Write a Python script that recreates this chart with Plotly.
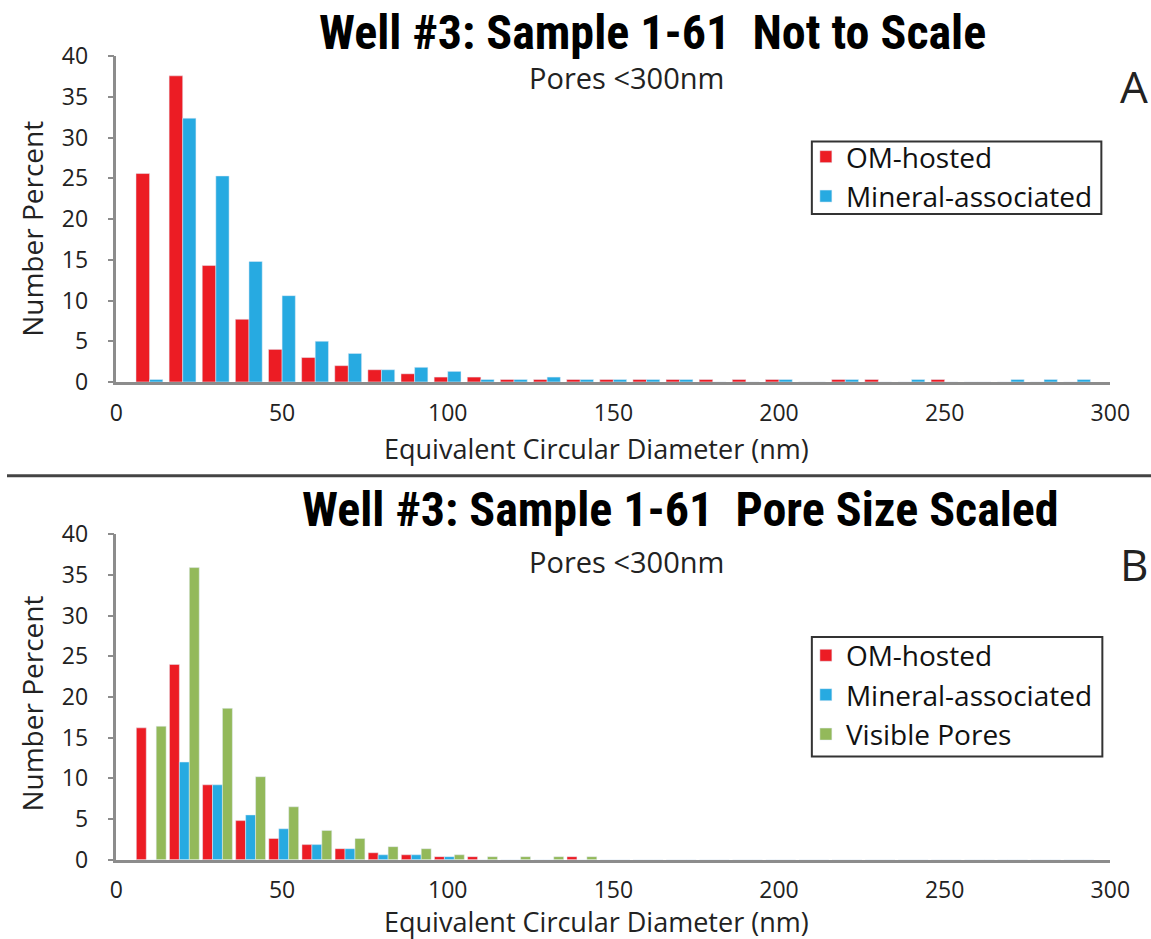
import plotly.graph_objects as go

# ---- data ----
bins_nm = [10 * k for k in range(1, 30)]  # group centres, nm
tick_vals = [0, 50, 100, 150, 200, 250, 300]
y_ticks = [0, 5, 10, 15, 20, 25, 30, 35, 40]

a_om = [25.6, 37.6, 14.3, 7.7, 4.0, 3.0, 2.0, 1.5, 1.0, 0.6, 0.6, 0.3, 0.3, 0.3, 0.3,
        0.3, 0.3, 0.3, 0.3, 0.3, 0, 0.3, 0.3, 0, 0.3, 0, 0, 0, 0]
a_min = [0.3, 32.4, 25.3, 14.8, 10.6, 5.0, 3.5, 1.5, 1.8, 1.3, 0.3, 0.3, 0.6, 0.3, 0.3,
         0.3, 0.3, 0, 0, 0.3, 0, 0.3, 0, 0.3, 0, 0, 0.3, 0.3, 0.3]

b_om = [16.2, 24.0, 9.2, 4.8, 2.6, 1.85, 1.35, 0.85, 0.6, 0.37, 0.37, 0, 0, 0.37,
        0, 0, 0, 0, 0, 0, 0, 0, 0, 0, 0, 0, 0, 0, 0]
b_min = [0, 12.0, 9.2, 5.5, 3.8, 1.85, 1.35, 0.6, 0.6, 0.37, 0, 0, 0, 0,
         0, 0, 0, 0, 0, 0, 0, 0, 0, 0, 0, 0, 0, 0, 0]
b_vis = [16.4, 35.9, 18.6, 10.2, 6.5, 3.6, 2.6, 1.6, 1.35, 0.6, 0.37, 0.37, 0.37, 0.37,
         0, 0, 0, 0, 0, 0, 0, 0, 0, 0, 0, 0, 0, 0, 0]

RED = "#EC1C24"
BLUE = "#27AAE1"
GREEN = "#93B95A"
AXC = "#8c8c8c"
FONT = "Open Sans"
TFONT = "Liberation Sans Narrow, Roboto Condensed, Open Sans"

W, H = 1172, 952  # page size of the figure


# map a target position in the photographed picture to page pixels
def PX(r):
    return (r - 3) / 0.982


def PY(r):
    return (r - 15) / 0.971


def fx(r):
    return PX(r) / W


def fy(r):
    return 1 - PY(r) / H


fig = go.Figure()

# Panel A
fig.add_trace(go.Bar(x=bins_nm, y=a_om, name="OM-hosted", marker_color=RED,
                     width=4.1, offset=-4.1, xaxis="x", yaxis="y", legend="legend"))
fig.add_trace(go.Bar(x=bins_nm, y=a_min, name="Mineral-associated", marker_color=BLUE,
                     width=4.0, offset=0.0, xaxis="x", yaxis="y", legend="legend"))
# Panel B
fig.add_trace(go.Bar(x=bins_nm, y=b_om, name="OM-hosted", marker_color=RED,
                     width=3.0, offset=-4.0, xaxis="x2", yaxis="y2", legend="legend2"))
fig.add_trace(go.Bar(x=bins_nm, y=b_min, name="Mineral-associated", marker_color=BLUE,
                     width=3.0, offset=-1.0, xaxis="x2", yaxis="y2", legend="legend2"))
fig.add_trace(go.Bar(x=bins_nm, y=b_vis, name="Visible Pores", marker_color=GREEN,
                     width=3.0, offset=2.0, xaxis="x2", yaxis="y2", legend="legend2"))

xdom = [fx(113), fx(1112)]


def xax(anchor):
    return dict(domain=xdom, range=[0, 300], tickvals=tick_vals, showgrid=False,
                zeroline=False, showline=True, linecolor=AXC, linewidth=3, ticks="",
                tickfont=dict(family=FONT, size=23, color="#222"), anchor=anchor,
                ticklabelstandoff=8, fixedrange=True)


def yax(anchor, dom):
    return dict(domain=dom, range=[0, 40], tickvals=y_ticks, showgrid=False,
                zeroline=False, showline=True, linecolor=AXC, linewidth=2.5,
                ticks="outside", ticklen=6, tickwidth=2, tickcolor=AXC,
                tickfont=dict(family=FONT, size=23, color="#222"), anchor=anchor,
                ticklabelstandoff=15, fixedrange=True)


ya_dom = [fy(381.7), fy(54.5)]
yb_dom = [fy(861.7), fy(534.7)]

ann = []


def text(x, y, s, size, bold=False, family=FONT, color="#111", angle=0):
    ann.append(dict(x=fx(x), y=fy(y), xref="paper", yref="paper", text=s, showarrow=False,
                    xanchor="center", yanchor="middle", textangle=angle,
                    font=dict(family=family, size=size, color=color,
                              weight="bold" if bold else "normal")))


text(652, 31, "Well #3: Sample 1-61  Not to Scale", 48, bold=True, family=TFONT, color="#000")
text(626, 76, "Pores <300nm", 29, color="#222")
text(1136, 84, "A", 44, color="#222")
text(596, 449, "Equivalent Circular Diameter (nm)", 27, color="#222")
text(28, 228, "Number Percent", 28, color="#222", angle=-90)

text(680, 510, "Well #3: Sample 1-61  Pore Size Scaled", 48, bold=True, family=TFONT, color="#000")
text(626, 562, "Pores <300nm", 29, color="#222")
text(1136, 565, "B", 44, color="#222")
text(596, 924, "Equivalent Circular Diameter (nm)", 27, color="#222")
text(28, 705, "Number Percent", 28, color="#222", angle=-90)

leg_common = dict(xanchor="left", yanchor="top", borderwidth=0,
                  bgcolor="rgba(0,0,0,0)", font=dict(family=FONT, size=28, color="#111"),
                  itemclick=False, itemdoubleclick=False, tracegroupgap=0)


def box(x0, y0, x1, y1):
    return dict(type="rect", xref="paper", yref="paper", x0=fx(x0), x1=fx(x1),
                y0=fy(y1), y1=fy(y0), line=dict(color="#333", width=2),
                fillcolor="rgba(0,0,0,0)", layer="above")


fig.update_layout(
    width=W, height=H, margin=dict(l=0, r=0, t=0, b=0),
    paper_bgcolor="white", plot_bgcolor="white",
    barmode="overlay", showlegend=True,
    xaxis=xax("y"), yaxis=yax("x", ya_dom),
    xaxis2=xax("y2"), yaxis2=yax("x2", yb_dom),
    legend=dict(x=fx(806), y=fy(130.5), **leg_common),
    legend2=dict(x=fx(806), y=fy(631.5), **leg_common),
    annotations=ann,
    shapes=[
        dict(type="line", xref="paper", yref="paper", x0=0, x1=1,
             y0=fy(476), y1=fy(476), line=dict(color="#444", width=3)),
        box(812, 140, 1103, 213),
        box(812, 638, 1104, 758),
    ],
)

fig.write_html("out.html", config={"displayModeBar": False},
               post_script="document.body.style.margin='0';document.body.style.overflow='hidden';")
